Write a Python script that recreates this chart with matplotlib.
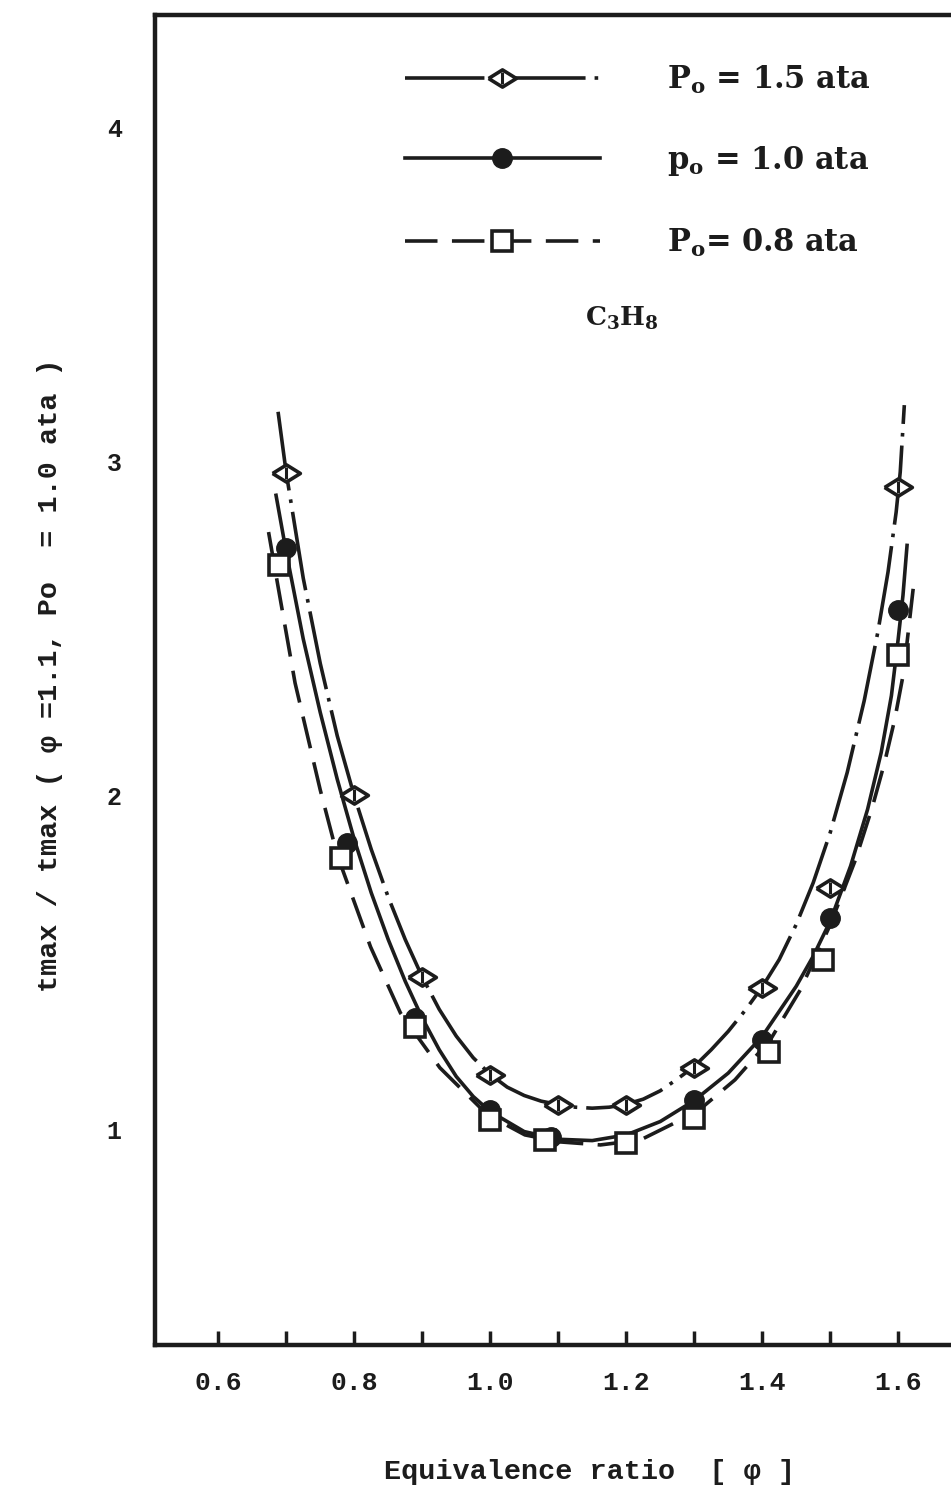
import numpy as np
import matplotlib
matplotlib.use("Agg")
import matplotlib.pyplot as plt
from matplotlib.ticker import FixedLocator

plt.rcParams["mathtext.fontset"] = "dejavuserif"

# Valores
phi_15 = [0.70, 0.80, 0.90, 1.00, 1.10, 1.20, 1.30, 1.40, 1.50, 1.60]
tau_15 = [2.967, 2.003, 1.458, 1.165, 1.075, 1.075, 1.186, 1.425, 1.725, 2.925]

phi_10 = [0.70, 0.79, 0.89, 1.00, 1.09, 1.30, 1.40, 1.50, 1.60]
tau_10 = [2.743, 1.859, 1.335, 1.060, 0.979, 1.090, 1.269, 1.635, 2.557]

phi_08 = [0.69, 0.78, 0.89, 1.00, 1.08, 1.20, 1.30, 1.41, 1.49, 1.60]
tau_08 = [2.692, 1.814, 1.308, 1.030, 0.970, 0.961, 1.036, 1.234, 1.509, 2.422]

# Curvas ajustadas
curva_x_15 = [0.688, 0.700, 0.725, 0.750, 0.775, 0.800, 0.825, 0.850, 0.875, 0.900, 0.925, 0.950,
              0.975, 1.000, 1.025, 1.050, 1.075, 1.100, 1.125, 1.150, 1.175, 1.200, 1.225, 1.250,
              1.275, 1.300, 1.325, 1.350, 1.375, 1.400, 1.425, 1.450, 1.475, 1.500, 1.525, 1.550,
              1.570, 1.585, 1.597, 1.603, 1.609]
curva_y_15 = [3.150, 2.967, 2.652, 2.397, 2.180, 2.000, 1.840, 1.697, 1.570, 1.458, 1.361, 1.281,
              1.216, 1.166, 1.128, 1.103, 1.086, 1.076, 1.068, 1.065, 1.068, 1.077, 1.092, 1.117,
              1.152, 1.190, 1.240, 1.295, 1.358, 1.428, 1.510, 1.615, 1.740, 1.890, 2.070, 2.285,
              2.490, 2.670, 2.850, 2.970, 3.170]

curva_x_10 = [0.685, 0.700, 0.725, 0.750, 0.775, 0.800, 0.825, 0.850, 0.875, 0.900, 0.925, 0.950,
              0.975, 1.000, 1.050, 1.100, 1.150, 1.200, 1.250, 1.300, 1.350, 1.400, 1.450, 1.475,
              1.500, 1.530, 1.555, 1.575, 1.590, 1.600, 1.607, 1.613]
curva_y_10 = [2.900, 2.730, 2.470, 2.250, 2.050, 1.870, 1.710, 1.570, 1.445, 1.335, 1.240, 1.160,
              1.100, 1.055, 0.995, 0.972, 0.968, 0.985, 1.025, 1.088, 1.170, 1.280, 1.430, 1.520,
              1.625, 1.790, 1.960, 2.130, 2.300, 2.470, 2.600, 2.750]

curva_x_08 = [0.674, 0.687, 0.713, 0.750, 0.775, 0.824, 0.868, 0.926, 0.996, 1.051, 1.103, 1.162,
              1.221, 1.304, 1.360, 1.412, 1.456, 1.500, 1.537, 1.562, 1.580, 1.595, 1.608, 1.622]
curva_y_08 = [2.790, 2.638, 2.338, 2.018, 1.823, 1.548, 1.350, 1.186, 1.045, 0.985, 0.964, 0.955,
              0.970, 1.054, 1.150, 1.270, 1.419, 1.614, 1.808, 1.967, 2.100, 2.230, 2.370, 2.620]

etiquetas = [r"$\mathbf{P_o}$ = 1.5 ata", r"$\mathbf{p_o}$ = 1.0 ata", r"$\mathbf{P_o}$= 0.8 ata"]
xticks_mayores = [0.6, 0.8, 1.0, 1.2, 1.4, 1.6]
xticks_menores = [0.7, 0.9, 1.1, 1.3, 1.5]
yticks = [1, 2, 3, 4]

NEGRO = "#1c1c1c"
rombo = [(-1, 0), (0, 0.62), (1, 0), (0, -0.62), (-1, 0)]

fig = plt.figure(figsize=(9.51, 14.94), dpi=100)
ax = fig.add_axes([155 / 951, 149 / 1494, 835 / 951, 1330 / 1494])

# Curvas
c15, = ax.plot(curva_x_15, curva_y_15, color=NEGRO, lw=2.6, dashes=(22, 2.5, 1, 2.5))
c10, = ax.plot(curva_x_10, curva_y_10, color=NEGRO, lw=2.6)
c08, = ax.plot(curva_x_08, curva_y_08, color=NEGRO, lw=2.6, dashes=(9, 4))

# Puntos
m15, = ax.plot(phi_15, tau_15, ls="none", marker=rombo, ms=20, mfc="white", mec=NEGRO, mew=2.6, zorder=4)
b15, = ax.plot(phi_15, tau_15, ls="none", marker="|", ms=9, mec=NEGRO, mew=2.2, zorder=5)
m10, = ax.plot(phi_10, tau_10, ls="none", marker="o", ms=14, mfc=NEGRO, mec=NEGRO, zorder=4)
m08, = ax.plot(phi_08, tau_08, ls="none", marker="s", ms=15, mfc="white", mec=NEGRO, mew=2.6, zorder=4)

ax.set_xlim(0.507, 1.735)
ax.set_ylim(0.356, 4.338)

ax.xaxis.set_major_locator(FixedLocator(xticks_mayores))
ax.xaxis.set_minor_locator(FixedLocator(xticks_menores))
ax.yaxis.set_major_locator(FixedLocator(yticks))
ax.set_xticklabels(["%.1f" % v for v in xticks_mayores])
ax.set_yticklabels([str(v) for v in yticks])

fuente_ejes = ["Liberation Mono", "DejaVu Sans Mono"]
for lab in ax.get_xticklabels() + ax.get_yticklabels():
    lab.set_family(fuente_ejes)
    lab.set_fontweight("bold")
    lab.set_color(NEGRO)
ax.tick_params(axis="x", which="both", direction="in", length=10, width=2.5, color=NEGRO,
               labelsize=19, pad=19)
ax.tick_params(axis="y", which="both", length=0, labelsize=18, pad=24)

for lado in ["left", "top", "bottom"]:
    ax.spines[lado].set_linewidth(3.2)
    ax.spines[lado].set_color(NEGRO)
ax.spines["right"].set_visible(False)

# Leyenda
leg = ax.legend([(c15, m15, b15), (c10, m10), (c08, m08)], etiquetas, loc="upper left",
                bbox_to_anchor=(0.266, 0.984), frameon=False, numpoints=1, handlelength=6.4,
                handletextpad=2.2, labelspacing=1.58,
                prop={"family": "DejaVu Serif", "weight": "bold", "size": 22})
for t in leg.get_texts():
    t.set_color(NEGRO)

fig.text(622 / 951, 1 - 318 / 1494, r"C$_\mathbf{3}$H$_\mathbf{8}$", fontsize=19, fontweight="bold",
         family="DejaVu Serif", ha="center", va="center", color=NEGRO)

fig.text(590 / 951, 1 - 1472 / 1494, "Equivalence ratio  [ \u03c6 ]", ha="center", va="center",
         family=fuente_ejes, fontweight="bold", fontsize=20.5, color=NEGRO)
fig.text(50 / 951, 1 - 675 / 1494, "tmax / tmax ( \u03c6 =1.1, Po  = 1.0 ata )", rotation=90,
         ha="center", va="center", family=fuente_ejes, fontweight="bold", fontsize=20.5, color=NEGRO)

fig.savefig("out.png", dpi=100)
